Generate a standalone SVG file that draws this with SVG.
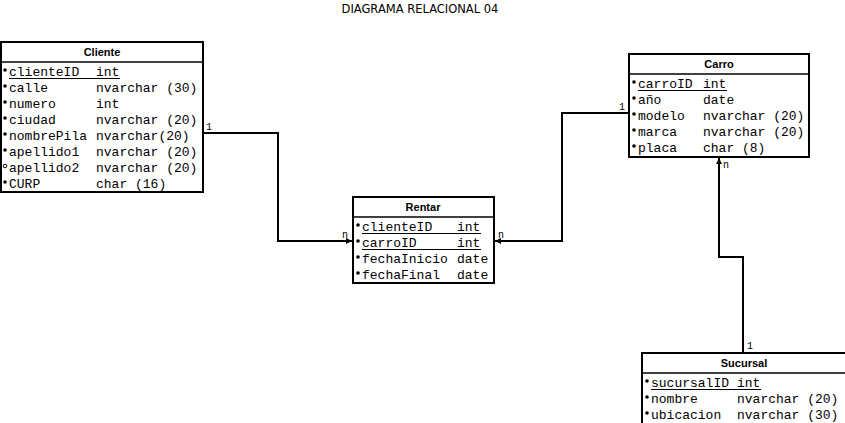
<svg xmlns="http://www.w3.org/2000/svg" width="845" height="423" viewBox="0 0 845 423">
<style>
.box{fill:#fff;stroke:#000;stroke-width:2}
.sep{stroke:#000;stroke-width:1.5}
.hd{font-family:"Liberation Sans",Arial,sans-serif;font-weight:bold;font-size:11px;text-anchor:middle;fill:#000}
.r{font-family:"Liberation Mono","Courier New",monospace;font-size:13px;fill:#000}
.ul{stroke:#000;stroke-width:1}
.dot{fill:#000}
.odot{fill:none;stroke:#000;stroke-width:1}
.con{fill:none;stroke:#000;stroke-width:2}
.lbl{font-family:"Liberation Mono","Courier New",monospace;font-size:10px;fill:#000}
.title{font-family:"DejaVu Sans",Verdana,sans-serif;font-size:11.5px;fill:#000;text-anchor:middle}
</style>
<defs>
<marker id="ar" viewBox="0 0 10 10" refX="10" refY="5" markerWidth="6" markerHeight="6" markerUnits="userSpaceOnUse" orient="auto">
<path d="M0,0 L10,5 L0,10 z" fill="#000"/>
</marker>
</defs>
<text class="title" x="420" y="13">DIAGRAMA RELACIONAL 04</text>

<g id="connectors">
<polyline class="con" points="203,133 278,133 278,241 352,241" marker-end="url(#ar)"/>
<polyline class="con" points="629,113 562,113 562,241 495,241" marker-end="url(#ar)"/>
<polyline class="con" points="743,353 743,257 719,257 719,158" marker-end="url(#ar)"/>
<text class="lbl" x="206" y="130">1</text>
<text class="lbl" x="342" y="238">n</text>
<text class="lbl" x="498" y="238">n</text>
<text class="lbl" x="619" y="110">1</text>
<text class="lbl" x="723" y="168">n</text>
<text class="lbl" x="747" y="349">1</text>
</g>

<g id="Cliente">
<rect class="box" x="1" y="42" width="202" height="150"/>
<line class="sep" x1="1" y1="62" x2="203" y2="62"/>
<text class="hd" x="102" y="56">Cliente</text>
<circle class="dot" cx="5" cy="70" r="1.8"/><text class="r" x="9" y="76">clienteID</text><text class="r" x="96" y="76">int</text>
<line class="ul" x1="9" y1="78.5" x2="120" y2="78.5"/>
<circle class="dot" cx="5" cy="86" r="1.8"/><text class="r" x="9" y="92">calle</text><text class="r" x="96" y="92">nvarchar (30)</text>
<circle class="dot" cx="5" cy="102" r="1.8"/><text class="r" x="9" y="108">numero</text><text class="r" x="96" y="108">int</text>
<circle class="dot" cx="5" cy="118" r="1.8"/><text class="r" x="9" y="124">ciudad</text><text class="r" x="96" y="124">nvarchar (20)</text>
<circle class="dot" cx="5" cy="134" r="1.8"/><text class="r" x="9" y="140">nombrePila</text><text class="r" x="96" y="140">nvarchar(20)</text>
<circle class="dot" cx="5" cy="150" r="1.8"/><text class="r" x="9" y="156">apellido1</text><text class="r" x="96" y="156">nvarchar (20)</text>
<circle class="odot" cx="5" cy="166" r="1.8"/><text class="r" x="9" y="172">apellido2</text><text class="r" x="96" y="172">nvarchar (20)</text>
<circle class="dot" cx="5" cy="182" r="1.8"/><text class="r" x="9" y="188">CURP</text><text class="r" x="96" y="188">char (16)</text>
</g>

<g id="Rentar">
<rect class="box" x="353" y="197" width="141" height="86"/>
<line class="sep" x1="353" y1="217" x2="494" y2="217"/>
<text class="hd" x="423" y="211">Rentar</text>
<circle class="dot" cx="358" cy="225" r="1.8"/><text class="r" x="362" y="231">clienteID</text><text class="r" x="457" y="231">int</text>
<line class="ul" x1="362" y1="233.5" x2="481" y2="233.5"/>
<circle class="dot" cx="358" cy="241" r="1.8"/><text class="r" x="362" y="247">carroID</text><text class="r" x="457" y="247">int</text>
<line class="ul" x1="362" y1="249.5" x2="481" y2="249.5"/>
<circle class="dot" cx="358" cy="257" r="1.8"/><text class="r" x="362" y="263">fechaInicio</text><text class="r" x="457" y="263">date</text>
<circle class="dot" cx="358" cy="273" r="1.8"/><text class="r" x="362" y="279">fechaFinal</text><text class="r" x="457" y="279">date</text>
</g>

<g id="Carro">
<rect class="box" x="629" y="54" width="180" height="103"/>
<line class="sep" x1="629" y1="74" x2="809" y2="74"/>
<text class="hd" x="719" y="68">Carro</text>
<circle class="dot" cx="634" cy="82" r="1.8"/><text class="r" x="638" y="88">carroID</text><text class="r" x="703" y="88">int</text>
<line class="ul" x1="638" y1="90.5" x2="727" y2="90.5"/>
<circle class="dot" cx="634" cy="98" r="1.8"/><text class="r" x="638" y="104">año</text><text class="r" x="703" y="104">date</text>
<circle class="dot" cx="634" cy="114" r="1.8"/><text class="r" x="638" y="120">modelo</text><text class="r" x="703" y="120">nvarchar (20)</text>
<circle class="dot" cx="634" cy="130" r="1.8"/><text class="r" x="638" y="136">marca</text><text class="r" x="703" y="136">nvarchar (20)</text>
<circle class="dot" cx="634" cy="146" r="1.8"/><text class="r" x="638" y="152">placa</text><text class="r" x="703" y="152">char (8)</text>
</g>

<g id="Sucursal">
<rect class="box" x="642" y="353" width="204" height="75"/>
<line class="sep" x1="642" y1="373" x2="846" y2="373"/>
<text class="hd" x="744" y="367">Sucursal</text>
<circle class="dot" cx="647" cy="381" r="1.8"/><text class="r" x="651" y="387">sucursalID</text><text class="r" x="737" y="387">int</text>
<line class="ul" x1="651" y1="389.5" x2="761" y2="389.5"/>
<circle class="dot" cx="647" cy="397" r="1.8"/><text class="r" x="651" y="403">nombre</text><text class="r" x="737" y="403">nvarchar (20)</text>
<circle class="dot" cx="647" cy="413" r="1.8"/><text class="r" x="651" y="419">ubicacion</text><text class="r" x="737" y="419">nvarchar (30)</text>
</g>
</svg>
